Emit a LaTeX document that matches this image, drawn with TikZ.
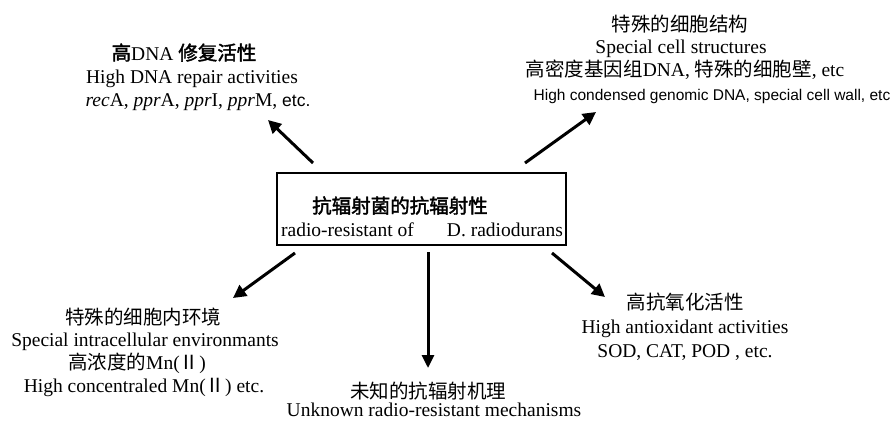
\documentclass[tikz,border=0pt]{standalone}
\usepackage{fontspec}
\setmainfont{Liberation Serif}
\newfontfamily\cjk{Noto Sans CJK SC}
\newfontfamily\cjkb{Noto Sans CJK SC}[FakeBold=2]
\newfontfamily\sansf{Liberation Sans}
\usetikzlibrary{arrows.meta}
\begin{document}
\begin{tikzpicture}[x=1pt,y=-1pt,
  txt/.style={anchor=base,inner sep=0pt,font=\fontsize{19.5}{24}\selectfont},
  stxt/.style={anchor=base,inner sep=0pt,font=\sansf\fontsize{15.5}{20}\selectfont},
  arr/.style={line width=3pt,-{Triangle[length=13pt,width=13pt]}},
  varr/.style={line width=3pt,-{Triangle[length=13pt,width=12pt]}}]
\useasboundingbox (0,0) rectangle (893,420);
% central box
\node[draw,line width=1.1pt,minimum width=289pt,minimum height=72pt,inner sep=0pt] (box) at (421.5,209) {};
\node[txt] (b1) at (400,213) {\cjkb 抗辐射菌的抗辐射性};
\node[txt] (b2) at (422,236) {radio-resistant of\hspace{1.7em}D. radiodurans};
% top-left
\node[txt] (tl1) at (184,60) {{\cjkb 高}DNA {\cjkb 修复活性}};
\node[txt] (tl2) at (192,83) {High DNA repair activities};
\node[txt] (tl3) at (198,106) {\textit{rec}A, \textit{ppr}A, \textit{ppr}I, \textit{ppr}M, {\sansf\fontsize{17.5}{20}\selectfont etc.}};
% top-right
\node[txt] (tr1) at (680,32) {\cjk 特殊的细胞结构};
\node[txt] (tr2) at (681,53) {Special cell structures};
\node[txt] (tr3) at (685,77) {{\cjk 高密度基因组}DNA, {\cjk 特殊的细胞壁}, etc};
\node[stxt] (tr4) at (712,100) {High condensed genomic DNA, special cell wall, etc};
% bottom-left
\node[txt] (bl1) at (143,324) {\cjk 特殊的细胞内环境};
\node[txt] (bl2) at (145,346) {Special intracellular environmants};
\node[txt] (bl3) at (137,369) {{\cjk 高浓度的}Mn({\cjk Ⅱ})};
\node[txt] (bl4) at (144,392) {High concentraled Mn({\cjk Ⅱ}) etc.};
% bottom-middle
\node[txt] (bm1) at (428,398) {\cjk 未知的抗辐射机理};
\node[txt] (bm2) at (434,416) {Unknown radio-resistant mechanisms};
% right
\node[txt] (r1) at (685,309) {\cjk 高抗氧化活性};
\node[txt] (r2) at (685,333) {High antioxidant activities};
\node[txt] (r3) at (685,357) {SOD, CAT, POD , etc.};
% arrows
\coordinate (a1s) at (313,163); \coordinate (a1e) at (268,120);
\coordinate (a2s) at (525,163); \coordinate (a2e) at (596,112);
\coordinate (a3s) at (295,253); \coordinate (a3e) at (233,298);
\coordinate (a4s) at (552,253); \coordinate (a4e) at (605,297);
\coordinate (a5s) at (428,252); \coordinate (a5e) at (428,368);
\draw[arr] (a1s) -- (a1e);
\draw[arr] (a2s) -- (a2e);
\draw[arr] (a3s) -- (a3e);
\draw[arr] (a4s) -- (a4e);
\draw[varr] (a5s) -- (a5e);
\end{tikzpicture}
\end{document}
